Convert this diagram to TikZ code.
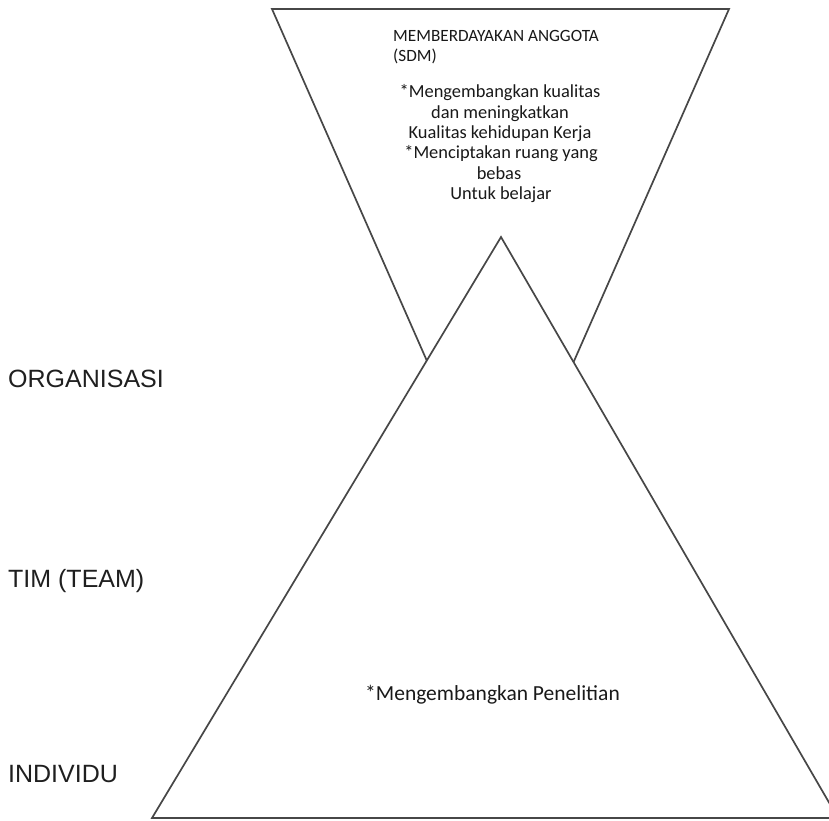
\documentclass[tikz,border=0pt]{standalone}
\usepackage{fontspec}
\setmainfont{Liberation Sans}
\newfontfamily\bodyfont{Carlito}
\begin{document}
\begin{tikzpicture}[x=1pt,y=-1pt,
  edge/.style={draw=black!72,line width=1.7pt,line join=miter},
  level/.style={font=\fontsize{25}{30}\selectfont,text=black!88,anchor=base west,inner sep=0pt},
  note/.style={font=\bodyfont\fontsize{18.4}{20}\selectfont,text=black!90,anchor=base,inner sep=0pt},
  title/.style={font=\bodyfont\fontsize{17.2}{20}\selectfont,text=black!90,anchor=base west,inner sep=0pt},
  bignote/.style={font=\bodyfont\fontsize{21.5}{24}\selectfont,text=black!90,anchor=base west,inner sep=0pt}]
\useasboundingbox (0,0) rectangle (829,820);
\fill[white] (0,0) rectangle (829,820);
\clip (0,0) rectangle (829,820);

% corners of the inverted triangle (SDM) and the upright pyramid
\coordinate (itl) at (272,9);
\coordinate (itr) at (729,9);
\coordinate (ibot) at (500.5,528);
\coordinate (apex) at (501,237);
\coordinate (bl) at (152,818);
\coordinate (br) at (838,818);

% inverted triangle, partly hidden behind the pyramid
\draw[edge] (itl) -- (itr) -- (ibot) -- cycle;
% pyramid, filled white so it covers the lower tip
\filldraw[edge,fill=white] (apex) -- (br) -- (bl) -- cycle;

% level labels on the left
\node[level] (org) at (8,387) {ORGANISASI};
\node[level] (tim) at (8,587) {TIM (TEAM)};
\node[level] (ind) at (8,782) {INDIVIDU};

% text in the inverted triangle
\node[title] (sdm1) at (393,41) {MEMBERDAYAKAN ANGGOTA};
\node[title] (sdm2) at (393,61) {(SDM)};
\node[note] (sdm3) at (500,97.5) {*Mengembangkan kualitas};
\node[note] (sdm4) at (500,118) {dan meningkatkan};
\node[note] (sdm5) at (500,138) {Kualitas kehidupan Kerja};
\node[note] (sdm6) at (501,158.5) {*Menciptakan ruang yang};
\node[note] (sdm7) at (499,179) {bebas};
\node[note] (sdm8) at (501,199.5) {Untuk belajar};

% text in the pyramid
\node[bignote] (riset) at (365,700) {*Mengembangkan Penelitian};
\end{tikzpicture}
\end{document}
